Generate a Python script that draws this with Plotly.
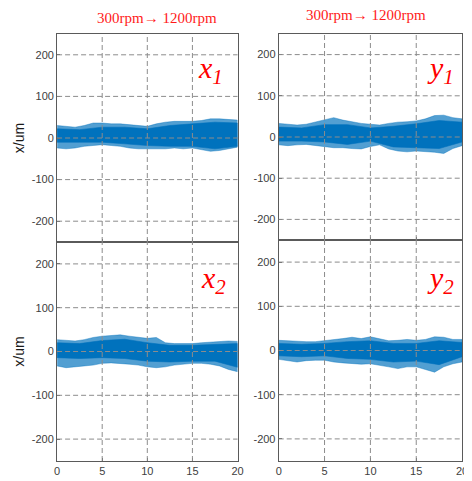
import plotly.graph_objects as go

# ---- data (envelopes) ----
t = list(range(21))
core_t = [0, 2.5, 5, 7.5, 10, 12.5, 15, 17.5, 20]

x1_up = [30, 28, 26, 30, 36, 36, 34, 34, 32, 30, 28, 34, 38, 40, 40, 40, 42, 46, 46, 45, 43]
x1_lo = [-24, -26, -24, -20, -18, -16, -18, -20, -24, -26, -26, -26, -26, -24, -26, -24, -28, -32, -30, -26, -22]
x1_core_up = [22, 20, 26, 26, 22, 30, 34, 38, 36]
x1_core_lo = [-10, -10, -10, -14, -18, -20, -20, -26, -20]

y1_up = [33, 31, 29, 31, 36, 41, 47, 41, 37, 33, 31, 29, 33, 36, 37, 39, 44, 52, 53, 47, 44]
y1_lo = [-19, -21, -19, -18, -21, -23, -26, -26, -28, -29, -23, -19, -29, -34, -36, -34, -36, -37, -40, -28, -21]
y1_core_up = [24, 22, 30, 30, 22, 26, 32, 40, 36]
y1_core_lo = [-10, -10, -12, -18, -10, -24, -26, -28, -12]

x2_up = [27, 26, 24, 27, 32, 35, 37, 38, 35, 32, 30, 32, 20, 18, 18, 18, 20, 21, 23, 24, 23]
x2_lo = [-33, -37, -35, -33, -31, -27, -26, -27, -29, -31, -35, -37, -35, -31, -29, -27, -27, -29, -33, -41, -46]
x2_core_up = [20, 18, 25, 28, 20, 14, 14, 16, 18]
x2_core_lo = [-14, -16, -14, -16, -22, -24, -22, -22, -36]

y2_up = [23, 22, 20, 20, 20, 22, 25, 27, 30, 27, 31, 27, 22, 23, 25, 23, 25, 31, 30, 25, 25]
y2_lo = [-20, -23, -26, -23, -22, -22, -26, -28, -30, -31, -30, -33, -37, -41, -37, -37, -43, -49, -37, -30, -26]
y2_core_up = [16, 14, 16, 20, 22, 16, 16, 22, 18]
y2_core_lo = [-12, -14, -12, -18, -20, -26, -24, -32, -14]

x_ticks = [0, 5, 10, 15, 20]
y_ticks = [-200, -100, 0, 100, 200]
y_ticktext = ["-200", "-100", "0", "100", "200"]
panel_labels = ["x<sub>1</sub>", "y<sub>1</sub>", "x<sub>2</sub>", "y<sub>2</sub>"]
top_title = "300rpm\u2192 1200rpm"
y_title = "x/um"

panels = [
    (x1_up, x1_lo, x1_core_up, x1_core_lo),
    (y1_up, y1_lo, y1_core_up, y1_core_lo),
    (x2_up, x2_lo, x2_core_up, x2_core_lo),
    (y2_up, y2_lo, y2_core_up, y2_core_lo),
]

BLUE = "#0072BD"
BLUE_LIGHT = "rgba(0,114,189,0.68)"

fig = go.Figure()
for i, (up, lo, cup, clo) in enumerate(panels):
    sfx = "" if i == 0 else str(i + 1)
    fig.add_trace(go.Scatter(
        x=t + t[::-1], y=up + lo[::-1], fill="toself", fillcolor=BLUE_LIGHT,
        mode="lines", line=dict(width=0.6, color=BLUE_LIGHT),
        xaxis="x" + sfx, yaxis="y" + sfx, hoverinfo="skip", showlegend=False))
    fig.add_trace(go.Scatter(
        x=core_t + core_t[::-1], y=cup + clo[::-1], fill="toself", fillcolor=BLUE,
        mode="lines", line=dict(width=0.6, color=BLUE),
        xaxis="x" + sfx, yaxis="y" + sfx, hoverinfo="skip", showlegend=False))

# page body has an 8px margin: the figure starts at window pixel (8, 8)
OFF = 8
W, H = 472 - OFF, 481 - OFF


def px(v):
    return (v - OFF) / W


def py(v):
    return 1 - (v - OFF) / H


xdom = [[px(55), px(239)], [px(281), px(468)], [px(55), px(239)], [px(281), px(468)]]
ydom = [[py(242), py(34)], [py(240), py(34)], [py(461), py(242)], [py(461), py(240)]]

tickfont = dict(family="Liberation Sans, Arial", size=11, color="#404040")
layout = dict(width=W, height=H, margin=dict(l=0, r=0, t=0, b=0),
              paper_bgcolor="white", plot_bgcolor="white", showlegend=False)
for i in range(4):
    sfx = "" if i == 0 else str(i + 1)
    layout["xaxis" + sfx] = dict(
        domain=xdom[i], range=[0, 20], tickvals=x_ticks, showgrid=False, zeroline=False,
        showline=True, mirror=True, linecolor="#5a5a5a", linewidth=1,
        ticks="inside", ticklen=3, tickcolor="#5a5a5a",
        showticklabels=(i >= 2), tickfont=tickfont, anchor="y" + sfx, fixedrange=True)
    yax = dict(
        domain=ydom[i], range=[-250, 250], tickvals=y_ticks, ticktext=y_ticktext,
        showgrid=False, zeroline=False, showline=True, mirror=True,
        linecolor="#5a5a5a", linewidth=1, ticks="inside", ticklen=3, tickcolor="#5a5a5a",
        tickfont=tickfont, anchor="x" + sfx, automargin=False, fixedrange=True)
    if i in (0, 2):
        yax["title"] = dict(text=y_title,
                            font=dict(family="Liberation Sans, Arial", size=14, color="#1a1a1a"),
                            standoff=3)
    layout["yaxis" + sfx] = yax
fig.update_layout(**layout)

# dashed grid drawn above the data, like the reference
shapes = []
for i in range(4):
    sfx = "" if i == 0 else str(i + 1)
    for xv in x_ticks[1:-1]:
        shapes.append(dict(type="line", xref="x" + sfx, yref="y" + sfx + " domain",
                           x0=xv, x1=xv, y0=0, y1=1, layer="above",
                           line=dict(color="#8c8c8c", width=1, dash="5px,3px")))
    for yv in y_ticks:
        shapes.append(dict(type="line", xref="x" + sfx + " domain", yref="y" + sfx,
                           x0=0, x1=1, y0=yv, y1=yv, layer="above",
                           line=dict(color="#8c8c8c", width=1, dash="5px,3px")))
fig.update_layout(shapes=shapes)

title_font = dict(family="Liberation Serif, Times New Roman", size=15, color="#ff1a1a")
annos = [
    dict(text=top_title, x=px(157), y=py(17.5), xref="paper", yref="paper",
         xanchor="center", yanchor="middle", showarrow=False, font=title_font),
    dict(text=top_title, x=px(370), y=py(15), xref="paper", yref="paper",
         xanchor="center", yanchor="middle", showarrow=False, font=title_font),
]
lab_pos = [(197, 70), (430, 70), (200, 280), (430, 280)]
for (lx, ly), lab in zip(lab_pos, panel_labels):
    annos.append(dict(text="<i>" + lab + "</i>", x=px(lx), y=py(ly), xref="paper", yref="paper",
                      xanchor="left", yanchor="middle", showarrow=False,
                      font=dict(family="Liberation Serif, Times New Roman", size=30, color="#ff0000")))
fig.update_layout(annotations=annos)

fig.write_html("out.html")
